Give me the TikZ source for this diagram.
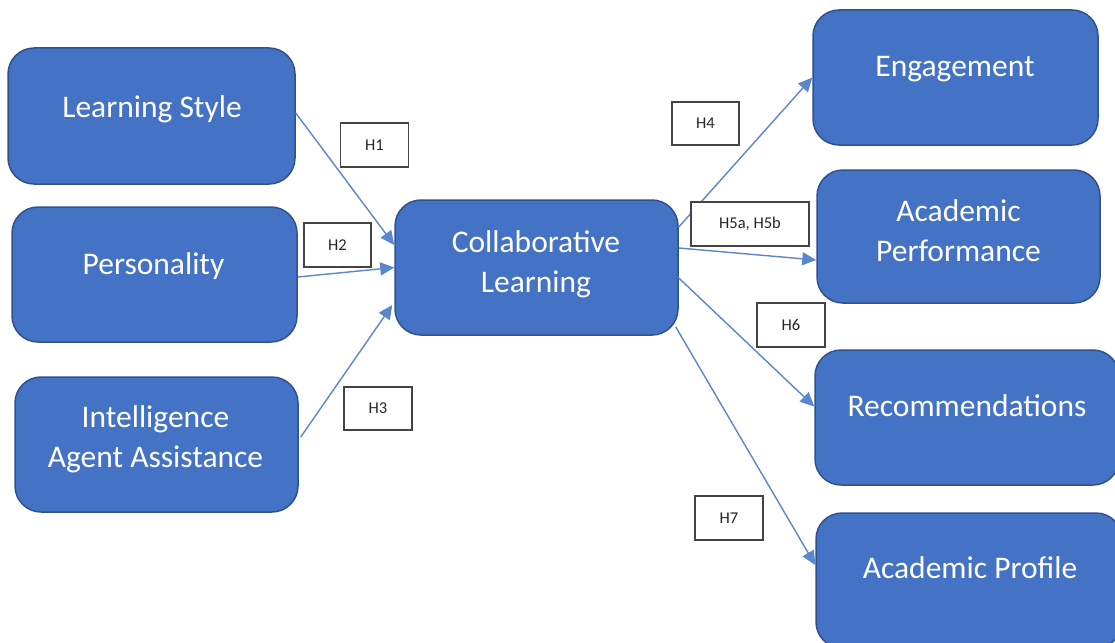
\documentclass[tikz,border=0pt]{standalone}
\usepackage{fontspec}
\setmainfont{Carlito}
\usetikzlibrary{arrows.meta}
\definecolor{boxfill}{HTML}{4472C4}
\definecolor{boxline}{HTML}{2F528F}
\definecolor{arrowcol}{HTML}{5A86CF}
\definecolor{hline}{HTML}{444444}
\begin{document}
\begin{tikzpicture}[x=1pt,y=-1pt,
  bluebox/.style={draw=boxline,fill=boxfill,line width=1.5pt,rounded corners=26pt,inner sep=0pt},
  boxtext/.style={text=white,font=\fontsize{31.5}{40}\selectfont,align=center,inner sep=0pt},
  hbox/.style={draw=hline,fill=white,line width=1.2pt,inner sep=0pt,font=\fontsize{16.5}{20}\selectfont,text=black!85},
  conn/.style={draw=arrowcol,line width=1.4pt,-{Triangle[length=14pt,width=13pt]}}]
\useasboundingbox (0,0) rectangle (1115,642);
% boxes
\node[bluebox,minimum width=287pt,minimum height=136pt] (ls) at (151.5,116) {};
\node[bluebox,minimum width=285pt,minimum height=135pt] (pe) at (154.5,274.5) {};
\node[bluebox,minimum width=283pt,minimum height=135pt] (ia) at (156.5,444.5) {};
\node[bluebox,minimum width=283pt,minimum height=135pt] (cl) at (536.5,267.5) {};
\node[bluebox,minimum width=285pt,minimum height=135pt] (en) at (955.5,77.5) {};
\node[bluebox,minimum width=283pt,minimum height=133pt] (ap) at (958.5,236.5) {};
\node[bluebox,minimum width=304pt,minimum height=135pt] (re) at (967,417.5) {};
\node[bluebox,minimum width=306pt,minimum height=135pt] (pr) at (969,580.5) {};
% texts
\node[boxtext] (lst) at (152,109) {Learning Style};
\node[boxtext] (pet) at (153.5,266) {Personality};
\node[boxtext] (iat) at (155.5,439) {Intelligence\\Agent Assistance};
\node[boxtext] (clt) at (536,264) {Collaborative\\Learning};
\node[boxtext] (ent) at (955,69.5) {Engagement};
\node[boxtext] (apt) at (958.5,231) {Academic\\Performance};
\node[boxtext] (ret) at (967,406) {Recommendations};
\node[boxtext] (prt) at (970,568) {Academic Profile};
% connectors
\draw[conn] ([yshift=3pt]ls.east) -- ([yshift=22.5pt]cl.west);
\draw[conn] ([yshift=-2.5pt]pe.east) -- (cl.west);
\draw[conn] ([xshift=2pt,yshift=7.5pt]ia.east) -- ([xshift=-2pt,yshift=-37.5pt]cl.west);
\draw[conn] ([yshift=40.5pt]cl.east) -- (en.west);
\draw[conn] ([yshift=19.5pt]cl.east) -- ([yshift=-23.5pt]ap.west);
\draw[conn] ([xshift=-1pt,yshift=-9.5pt]cl.east) -- ([yshift=11pt]re.west);
\draw[conn] ([xshift=-3pt,yshift=-59.5pt]cl.east) -- ([yshift=15.5pt]pr.west);
% hypothesis labels
\node[hbox,minimum width=68pt,minimum height=44pt] (h1) at (374.5,145) {H1};
\node[hbox,minimum width=67pt,minimum height=44pt] (h2) at (337.5,245) {H2};
\node[hbox,minimum width=68pt,minimum height=43pt] (h3) at (378,408.5) {H3};
\node[hbox,minimum width=67pt,minimum height=43pt] (h4) at (705.5,123.5) {H4};
\node[hbox,minimum width=118pt,minimum height=44pt] (h5) at (750,224) {H5a, H5b};
\node[hbox,minimum width=68pt,minimum height=44pt] (h6) at (791,325) {H6};
\node[hbox,minimum width=68pt,minimum height=44pt] (h7) at (729,518) {H7};
\end{tikzpicture}
\end{document}
